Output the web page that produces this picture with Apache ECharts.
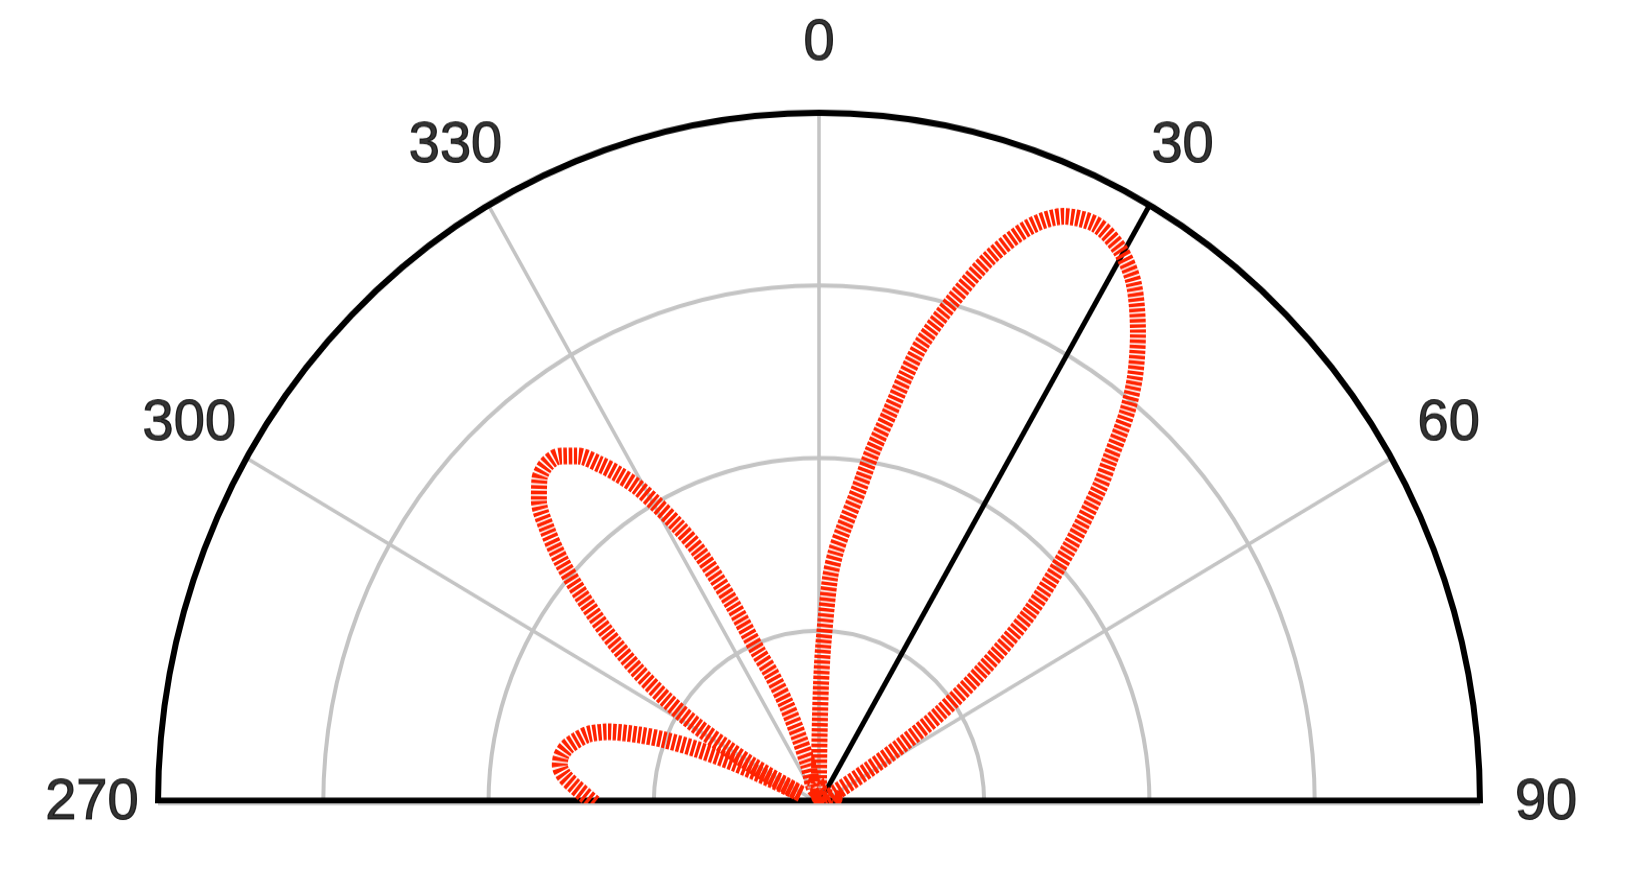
<!DOCTYPE html>
<html>
<head>
<meta charset="utf-8">
<script src="https://cdn.jsdelivr.net/npm/echarts@6/dist/echarts.min.js"></script>
<style>
html, body { margin: 0; padding: 0; background: #fff; overflow: hidden; }
#wrap { width: 1631px; height: 890px; overflow: hidden; }
#chart { width: 1631px; height: 852px; transform: scaleY(1.0446); transform-origin: 0 0; }
</style>
</head>
<body>
<div id="wrap"><div id="chart"></div></div>
<script>
// Pattern (angle in degrees, -90 = 270, 0 = top, 90 = right)
const patternAngles = [
  -90, -88, -86, -84, -82, -80, -78, -76, -74, -72, -70, -68.5, -67, -65.5, -64.5, -63.5,
  -62.5, -61.5, -60, -58.8, -57, -55, -52.4, -50, -48, -46, -44, -42, -40, -38, -36, -34,
  -32.5, -31, -29.7, -28, -26.4, -24.5, -22.8, -21, -19, -17.5, -16.5, -15.5,
  -13, -10, -6, -3, -1,
  0, 0.5, 1, 1.6, 2.9, 4, 5.3, 7.6, 9, 10.7, 12, 13.2, 15.6, 18.1, 20.9, 23.5, 26.6,
  29.6, 32.3, 35.3, 37.7, 39.5, 41.5, 42.8, 45.6, 49.1, 52, 54.5, 56, 57, 58,
  60, 65, 72, 80, 90
];
const patternRadii = [
  0.34, 0.355, 0.372, 0.388, 0.396, 0.396, 0.39, 0.378, 0.363, 0.335, 0.29, 0.25, 0.2, 0.14, 0.08, 0.03,
  0.06, 0.113, 0.165, 0.216, 0.275, 0.335, 0.405, 0.47, 0.525, 0.572, 0.61, 0.632, 0.641, 0.638, 0.622, 0.592,
  0.565, 0.535, 0.501, 0.455, 0.405, 0.32, 0.24, 0.2, 0.15, 0.1, 0.06, 0.02,
  0.02, 0.03, 0.03, 0.015, 0.01,
  0.04, 0.1, 0.17, 0.228, 0.325, 0.365, 0.398, 0.46, 0.515, 0.575, 0.635, 0.685, 0.757, 0.831, 0.894, 0.927, 0.937,
  0.922, 0.891, 0.835, 0.782, 0.732, 0.664, 0.626, 0.532, 0.422, 0.315, 0.225, 0.15, 0.09, 0.03,
  0.01, 0.02, 0.025, 0.02, 0.01
];
// Black reference direction
const markerAngle = 30;
// Angle ticks and their labels
const tickAngles = [-90, -60, -30, 0, 30, 60, 90];
const tickLabels = ['270', '300', '330', '0', '30', '60', '90'];
const labelRadius = 1.1;

const patternData = patternAngles.map((a, i) => [patternRadii[i], a]);
const markerData = [[0, markerAngle], [1, markerAngle]];
const baseData = [[1, tickAngles[0]], [0, 0], [1, tickAngles[tickAngles.length - 1]]];
const labelData = tickAngles.map((a, i) => ({ value: [labelRadius, a], name: tickLabels[i] }));

const chart = echarts.init(document.getElementById('chart'), null, { renderer: 'canvas' });
chart.setOption({
  animation: false,
  backgroundColor: '#ffffff',
  polar: { center: [819, 769], radius: 661 },
  angleAxis: {
    type: 'value', min: -90, max: 90, interval: 30,
    startAngle: 180, endAngle: 0, clockwise: true, z: 0,
    axisLine: { show: true, lineStyle: { color: '#000000', width: 6 } },
    axisTick: { show: false },
    axisLabel: { show: false },
    splitLine: { show: true, lineStyle: { color: '#c4c4c4', width: 3.5 } }
  },
  radiusAxis: {
    type: 'value', min: 0, max: 1, interval: 0.25, z: 0,
    axisLine: { show: false }, axisTick: { show: false }, axisLabel: { show: false },
    splitLine: { show: true, lineStyle: { color: '#c4c4c4', width: 4 } }
  },
  series: [
    {
      type: 'line', coordinateSystem: 'polar', data: baseData, clip: false, silent: true, z: 10,
      symbol: 'none', lineStyle: { color: '#000000', width: 11, type: 'solid' }
    },
    {
      type: 'line', coordinateSystem: 'polar', data: markerData, clip: false, silent: true, z: 11,
      symbol: 'none', lineStyle: { color: '#000000', width: 5, type: 'solid' }
    },
    {
      type: 'line', coordinateSystem: 'polar', data: patternData, clip: false, silent: true, z: 12,
      symbol: 'none', smooth: 0.3,
      lineStyle: { color: '#ff2200', width: 16, type: [3.4, 1.6], cap: 'butt' }
    },
    {
      type: 'scatter', coordinateSystem: 'polar', data: labelData, clip: false, silent: true, z: 13,
      symbolSize: 0,
      label: {
        show: true, position: 'inside', formatter: p => p.name,
        fontSize: 56, color: '#000000', fontFamily: 'Liberation Sans, Arial, sans-serif',
        align: 'center', verticalAlign: 'middle',
        textBorderWidth: 1.2, textBorderColor: '#000000'
      }
    }
  ]
});
</script>
</body>
</html>
